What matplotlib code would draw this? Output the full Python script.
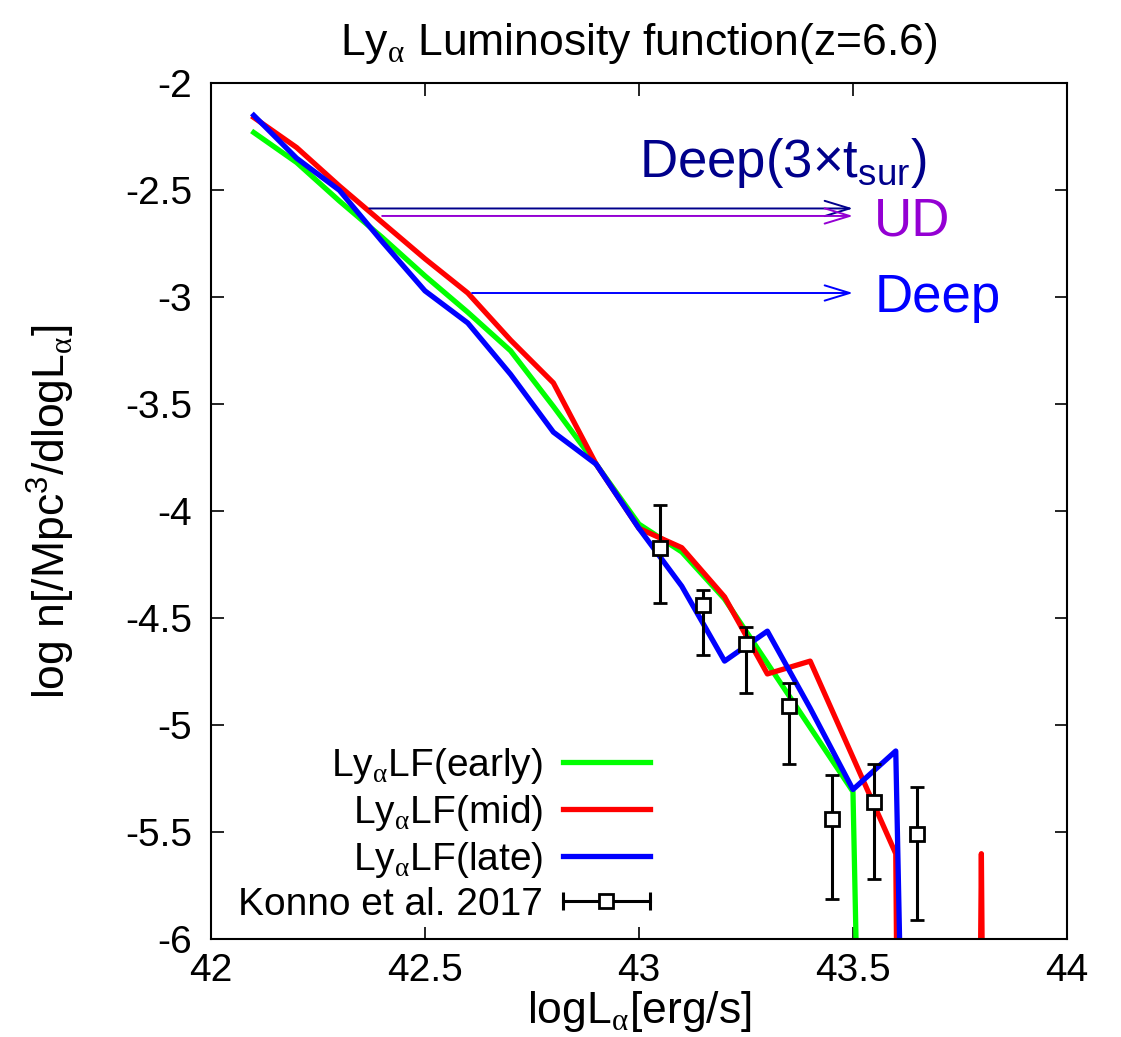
import numpy as np
import matplotlib
matplotlib.use('Agg')
import matplotlib.pyplot as plt
from matplotlib.lines import Line2D
from matplotlib.legend_handler import HandlerLine2D, HandlerTuple
from matplotlib.ticker import FuncFormatter, MultipleLocator

plt.rcParams['font.family'] = ['Liberation Sans', 'DejaVu Sans']
plt.rcParams['mathtext.fontset'] = 'custom'
plt.rcParams['mathtext.rm'] = 'Liberation Sans'
plt.rcParams['mathtext.it'] = 'Liberation Sans:italic'
plt.rcParams['mathtext.sf'] = 'Liberation Serif'

# model Lya luminosity functions, log n per bin of logL
logL = [42.1, 42.2, 42.3, 42.4, 42.5, 42.6, 42.7, 42.8, 42.9, 43.0,
        43.1, 43.2, 43.3, 43.4, 43.5, 43.6, 43.7, 43.8, 43.9]
lf_early = [-2.23, -2.37, -2.55, -2.72, -2.90, -3.07, -3.25, -3.51, -3.78, -4.06,
            -4.19, -4.41, -4.71, -5.01, -5.31, -15.0, np.nan, np.nan, np.nan]
lf_mid = [-2.16, -2.30, -2.48, -2.65, -2.82, -2.98, -3.20, -3.40, -3.78, -4.08,
          -4.17, -4.40, -4.76, -4.70, -5.15, -5.60, -30.0, -5.60, -30.0]
lf_late = [-2.15, -2.35, -2.50, -2.74, -2.97, -3.12, -3.36, -3.63, -3.78, -4.08,
           -4.35, -4.70, -4.56, -4.92, -5.30, -5.12, -15.0, np.nan, np.nan]

# Konno et al. 2017 observations
konno_x = [43.05, 43.15, 43.25, 43.35, 43.45, 43.55, 43.65]
konno_y = [-4.17, -4.44, -4.62, -4.91, -5.44, -5.36, -5.51]
konno_lo = [0.26, 0.23, 0.23, 0.27, 0.37, 0.36, 0.40]
konno_hi = [0.20, 0.07, 0.08, 0.11, 0.21, 0.18, 0.22]

# survey limits: label, arrow start, arrow level
lim_names = ['Deep(3×t$_{\\mathrm{sur}}$)', 'UD', 'Deep']
lim_start = [42.37, 42.40, 42.61]
lim_level = [-2.585, -2.62, -2.98]
lim_end = 43.5
lim_colors = ['#00008b', '#9400d3', '#0000ff']
lim_text_x = [43.0, 43.55, 43.55]
lim_text_y = [-2.44, -2.71, -3.07]

fig = plt.figure(figsize=(11.21, 10.37), dpi=100)
ax = fig.add_axes([0.1882, 0.0942, 0.7636, 0.8255])

alpha = '$_{\\mathsf{α}}$'
h1, = ax.plot(logL, lf_early, color='#00ff00', lw=3.8)
h2, = ax.plot(logL, lf_mid, color='#ff0000', lw=3.8)
h3, = ax.plot(logL, lf_late, color='#0000ff', lw=3.8)

ax.errorbar(konno_x, konno_y, yerr=[konno_lo, konno_hi], fmt='s', color='k',
            ms=10, mfc='white', mec='k', mew=2.0, elinewidth=2.2,
            capsize=4.8, capthick=2.2, zorder=5)

for i in range(3):
    ax.annotate('', xy=(lim_end, lim_level[i]), xytext=(lim_start[i], lim_level[i]),
                arrowprops=dict(arrowstyle='->,head_length=1.8,head_width=0.55',
                                color=lim_colors[i], lw=1.4, shrinkA=0, shrinkB=0))
    ax.text(lim_text_x[i], lim_text_y[i], lim_names[i], color=lim_colors[i],
            fontsize=38, ha='left', va='baseline')

ax.set_xlim(42, 44)
ax.set_ylim(-6, -2)
ax.xaxis.set_major_locator(MultipleLocator(0.5))
ax.yaxis.set_major_locator(MultipleLocator(0.5))
fmt = FuncFormatter(lambda v, p: '%g' % v)
ax.xaxis.set_major_formatter(fmt)
ax.yaxis.set_major_formatter(fmt)
ax.tick_params(direction='in', top=True, right=True, length=9, width=1.2,
               labelsize=28)
ax.tick_params(axis='x', pad=10)
ax.tick_params(axis='y', pad=13.5)
for s in ax.spines.values():
    s.set_linewidth(1.5)

ax.set_xlabel('logL' + alpha + '[erg/s]', fontsize=32)
ax.set_ylabel('log n[/Mpc$^{\\mathrm{3}}$/dlogL' + alpha + ']', fontsize=32)
ax.xaxis.set_label_coords(0.5, -0.058)
ax.yaxis.set_label_coords(-0.1565, 0.5)

ax.text(0.5, 1.033, 'Ly' + alpha + ' Luminosity function(z=6.6)',
        transform=ax.transAxes, ha='center', va='baseline', fontsize=32)

cap_proxy = Line2D([], [], color='k', lw=2.2, marker='|', ms=13, mew=2.2)
sq_proxy = Line2D([], [], ls='none', marker='s', ms=10, mfc='white', mec='k', mew=2.0)
labels = ['Ly' + alpha + 'LF(early)', 'Ly' + alpha + 'LF(mid)',
          'Ly' + alpha + 'LF(late)', 'Konno et al. 2017']
ax.legend([h1, h2, h3, (cap_proxy, sq_proxy)], labels, loc='lower right',
          bbox_to_anchor=(0.513, 0.019), frameon=False, markerfirst=False,
          fontsize=28, handlelength=2.25, handletextpad=0.5, labelspacing=0.18,
          borderpad=0, borderaxespad=0,
          handler_map={tuple: HandlerTuple(ndivide=1, pad=0),
                       cap_proxy: HandlerLine2D(numpoints=2, marker_pad=0),
                       sq_proxy: HandlerLine2D(numpoints=1)})

fig.savefig('out.png', dpi=100)
